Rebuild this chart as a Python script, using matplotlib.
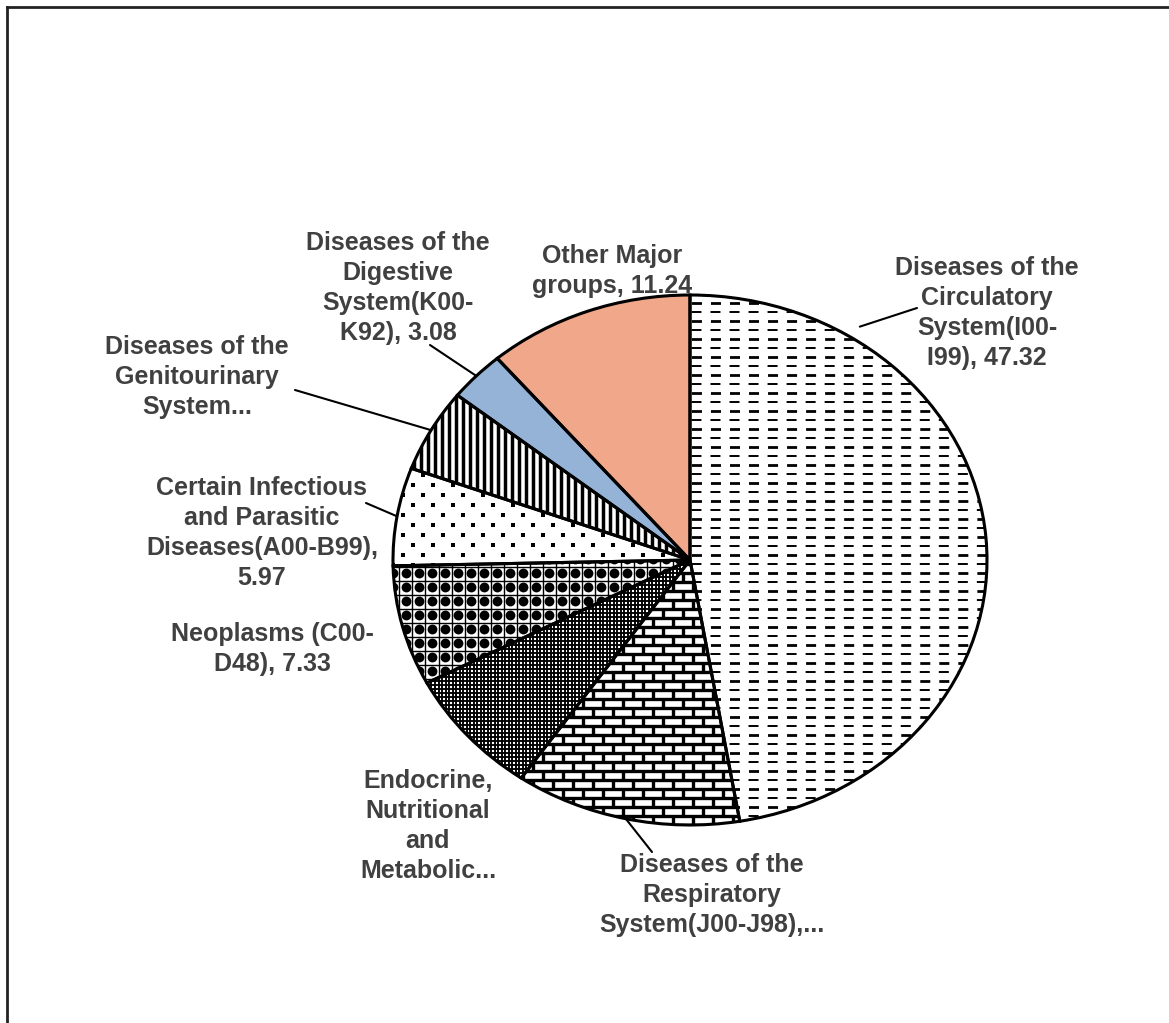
import numpy as np
import matplotlib.pyplot as plt
from matplotlib.collections import LineCollection
from matplotlib.lines import Line2D

plt.rcParams['lines.scale_dashes'] = False

W, H = 1169, 1023

# data (percent of deaths by major group), clockwise from 12 o'clock
groups = ["Circulatory", "Respiratory", "Endocrine", "Neoplasms",
          "Infectious", "Genitourinary", "Digestive", "Other"]
values = [47.32, 12.30, 7.70, 7.33, 5.97, 5.06, 3.08, 11.24]
labels = [
    "Diseases of the\nCirculatory\nSystem(I00-\nI99), 47.32",
    "Diseases of the\nRespiratory\nSystem(J00-J98),...",
    "Endocrine,\nNutritional\nand\nMetabolic...",
    "Neoplasms (C00-\nD48), 7.33",
    "Certain Infectious\nand Parasitic\nDiseases(A00-B99),\n5.97",
    "Diseases of the\nGenitourinary\nSystem...",
    "Diseases of the\nDigestive\nSystem(K00-\nK92), 3.08",
    "Other Major\ngroups, 11.24",
]
fills = ["white", "white", "white", "white", "white", "white", "#95B3D7", "#F0A78A"]

# label block centres (pixels) and leader lines (text end px, angle offset on wedge or None)
label_pos = [(987, 313), (712, 895), (428, 826), (272, 649),
             (262, 533), (197, 377), (398, 288), (612, 271)]
leader_start = [(917, 308), (652, 852), None, None,
                (366, 503), (295, 390), (430, 345), None]
leader_angle = [57, None, None, None, None, None, None, None]

fig = plt.figure(figsize=(W / 100, H / 100), dpi=100)
ax = fig.add_axes([393 / W, 1 - 825 / H, 594 / W, 530 / H])

wedges, _ = ax.pie(values, startangle=90, counterclock=False, colors=fills,
                   wedgeprops=dict(linewidth=0))
edges, _ = ax.pie(values, startangle=90, counterclock=False,
                  wedgeprops=dict(fill=False, edgecolor="black", linewidth=2.2))
for e in edges:
    e.set_zorder(5)
ax.set_aspect("auto")
ax.set_xlim(-1, 1)
ax.set_ylim(-1, 1)
ax.axis("off")

px = 2 / 594  # data units per pixel, x
py = 2 / 530  # data units per pixel, y

# circulatory: dashed horizontal rows
w = wedges[0]
for k, y in enumerate(np.arange(-1, 1, 9 * py)):
    ln, = ax.plot([-1.02, 1.02], [y, y], color="black",
                  lw=2.0 if k % 2 == 0 else 1.4, ls=(0, (7.2, 6.5)), zorder=2)
    ln.set_clip_path(w)

# respiratory: bricks
w = wedges[1]
segs = []
rows = np.arange(-1, 1, 9 * py)
for k, y in enumerate(rows):
    segs.append([(-1, y), (1, y)])
    off = 0 if k % 2 == 0 else 10 * px
    for x in np.arange(-1 + off, 1, 20 * px):
        segs.append([(x, y), (x, y + 9 * py)])
lc = LineCollection(segs, colors="black", linewidths=2.4, zorder=2)
ax.add_collection(lc)
lc.set_clip_path(w)

# endocrine: fine dense grid
w = wedges[2]
segs = [[(x, -1), (x, 1)] for x in np.arange(-1, 1, 3.5 * px)]
segs += [[(-1, y), (1, y)] for y in np.arange(-1, 1, 4 * py)]
lc = LineCollection(segs, colors="black", linewidths=1.35, zorder=2)
ax.add_collection(lc)
lc.set_clip_path(w)

# neoplasms: black blobs in a checker grid
w = wedges[3]
gx, gy = np.meshgrid(np.arange(-1, 1, 13 * px), np.arange(-1, 1, 14 * py))
sc = ax.scatter(gx.ravel(), gy.ravel(), s=50, marker="o", color="black",
                linewidths=0, zorder=2)
sc.set_clip_path(w)
segs = [[(-1, y), (1, y)] for y in np.arange(-1 + 6 * py, 1, 14 * py)]
segs += [[(x, -1), (x, 1)] for x in np.arange(-1 + 6.5 * px, 1, 13 * px)]
lc = LineCollection(segs, colors="black", linewidths=1.0, zorder=2)
ax.add_collection(lc)
lc.set_clip_path(w)

# infectious: sparse dots
w = wedges[4]
dots = []
for k, y in enumerate(np.arange(-1, 1, 10 * py)):
    off = 0 if k % 2 == 0 else 10 * px
    for x in np.arange(-1 + off, 1, 20 * px):
        dots.append((x, y))
dots = np.array(dots)
sc = ax.scatter(dots[:, 0], dots[:, 1], s=5, marker="s", color="black",
                linewidths=0, zorder=2)
sc.set_clip_path(w)

# genitourinary: vertical stripes
w = wedges[5]
segs = [[(x, -1), (x, 1)] for x in np.arange(-1, 1, 7 * px)]
lc = LineCollection(segs, colors="black", linewidths=2.5, zorder=2)
ax.add_collection(lc)
lc.set_clip_path(w)

# labels and leader lines
for i, txt in enumerate(labels):
    x, y = label_pos[i]
    fig.text(x / W, 1 - y / H, txt, ha="center", va="center",
             family="Liberation Sans", weight="bold", fontsize=18,
             color="#404040", linespacing=1.3)
    if leader_start[i] is not None:
        wd = wedges[i]
        ang = leader_angle[i] if leader_angle[i] is not None else (wd.theta1 + wd.theta2) / 2
        r = 1.05 if leader_angle[i] is not None else 1.0
        end = (r * np.cos(np.radians(ang)), r * np.sin(np.radians(ang)))
        sx, sy = leader_start[i]
        ax.annotate("", xy=end, xycoords="data",
                    xytext=(sx / W, 1 - sy / H), textcoords="figure fraction",
                    arrowprops=dict(arrowstyle="-", color="black", lw=1.5,
                                    shrinkA=0, shrinkB=0))

# outer frame (only top and left visible)
fig.add_artist(Line2D([7 / W, 7 / W], [0, 1 - 7 / H], color="#222222", lw=2,
                      transform=fig.transFigure))
fig.add_artist(Line2D([7 / W, 1], [1 - 7 / H, 1 - 7 / H], color="#222222", lw=2,
                      transform=fig.transFigure))

fig.savefig("out.png", dpi=100)
